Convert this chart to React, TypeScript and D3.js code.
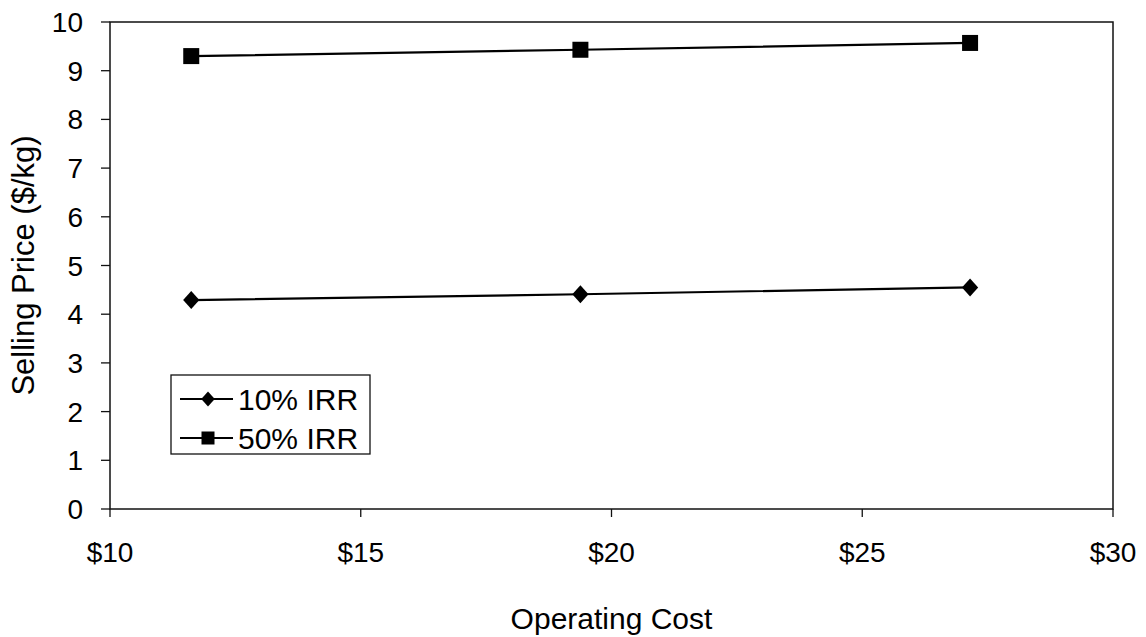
import React from "react";
import * as d3 from "d3";

// Operating cost ($) for each scenario
const operatingCost = [11.62, 19.38, 27.15];
// Selling price ($/kg) needed for each IRR target
const irr10 = [4.29, 4.41, 4.55];
const irr50 = [9.3, 9.43, 9.57];
const seriesNames = ["10% IRR", "50% IRR"];
const xTicks = [10, 15, 20, 25, 30];
const yTicks = [0, 1, 2, 3, 4, 5, 6, 7, 8, 9, 10];

const W = 1146;
const H = 637;
const M = { left: 110, right: 1113, top: 22, bottom: 509 };
const FONT = "'Liberation Sans', Arial, sans-serif";

export default function App() {
  const x = d3.scaleLinear().domain([10, 30]).range([M.left, M.right]);
  const y = d3.scaleLinear().domain([0, 10]).range([M.bottom, M.top]);
  const line = d3
    .line<[number, number]>()
    .x((d) => x(d[0]))
    .y((d) => y(d[1]));

  const s10 = operatingCost.map((c, i) => [c, irr10[i]] as [number, number]);
  const s50 = operatingCost.map((c, i) => [c, irr50[i]] as [number, number]);

  const diamond = (cx: number, cy: number, r: number) =>
    `M${cx},${cy - r}L${cx + r * 0.9},${cy}L${cx},${cy + r}L${cx - r * 0.9},${cy}Z`;

  const legendX = 171;
  const legendY = 375;
  const rows = [399, 438];

  return (
    <svg
      width={W}
      height={H}
      style={{ position: "absolute", left: 0, top: 0, background: "#fff" }}
      fontFamily={FONT}
    >
      <rect x={0} y={0} width={W} height={H} fill="#fff" />
      {/* plot frame */}
      <rect
        x={M.left}
        y={M.top}
        width={M.right - M.left}
        height={M.bottom - M.top}
        fill="none"
        stroke="#111"
        strokeWidth={1.5}
      />
      {/* y axis ticks and labels */}
      {yTicks.map((t) => (
        <g key={"y" + t}>
          <line x1={M.left - 9} x2={M.left} y1={y(t)} y2={y(t)} stroke="#111" strokeWidth={1.3} />
          <text
            x={83}
            y={y(t)}
            dy="0.36em"
            textAnchor="end"
            fontSize={28}
            fill="#000"
          >
            {t}
          </text>
        </g>
      ))}
      {/* x axis ticks and labels */}
      {xTicks.map((t) => (
        <g key={"x" + t}>
          <line x1={x(t)} x2={x(t)} y1={M.bottom} y2={M.bottom + 8} stroke="#111" strokeWidth={1.3} />
          <text x={x(t)} y={562} textAnchor="middle" fontSize={28} fill="#000">
            {"$" + t}
          </text>
        </g>
      ))}
      <text x={(M.left + M.right) / 2} y={629} textAnchor="middle" fontSize={30} fill="#000">
        Operating Cost
      </text>
      <text
        transform={`translate(34, ${(M.top + M.bottom) / 2}) rotate(-90)`}
        textAnchor="middle"
        fontSize={31}
        fill="#000"
      >
        Selling Price ($/kg)
      </text>

      {/* series */}
      <path d={line(s10) ?? ""} fill="none" stroke="#000" strokeWidth={2.2} />
      <path d={line(s50) ?? ""} fill="none" stroke="#000" strokeWidth={2.2} />
      {s10.map((d, i) => (
        <path key={"d" + i} d={diamond(x(d[0]), y(d[1]), 9)} fill="#000" />
      ))}
      {s50.map((d, i) => (
        <rect key={"s" + i} x={x(d[0]) - 8} y={y(d[1]) - 8} width={16} height={16} fill="#000" />
      ))}

      {/* legend */}
      <rect
        x={legendX}
        y={legendY}
        width={199}
        height={79}
        fill="#fff"
        stroke="#111"
        strokeWidth={1.3}
      />
      {seriesNames.map((name, i) => (
        <g key={name}>
          <line x1={180} x2={233} y1={rows[i]} y2={rows[i]} stroke="#000" strokeWidth={2.2} />
          {i === 0 ? (
            <path d={diamond(208, rows[i], 7.5)} fill="#000" />
          ) : (
            <rect x={201.5} y={rows[i] - 6.5} width={13} height={13} fill="#000" />
          )}
          <text x={238} y={rows[i]} dy="0.36em" fontSize={30} fill="#000">
            {name}
          </text>
        </g>
      ))}
    </svg>
  );
}
